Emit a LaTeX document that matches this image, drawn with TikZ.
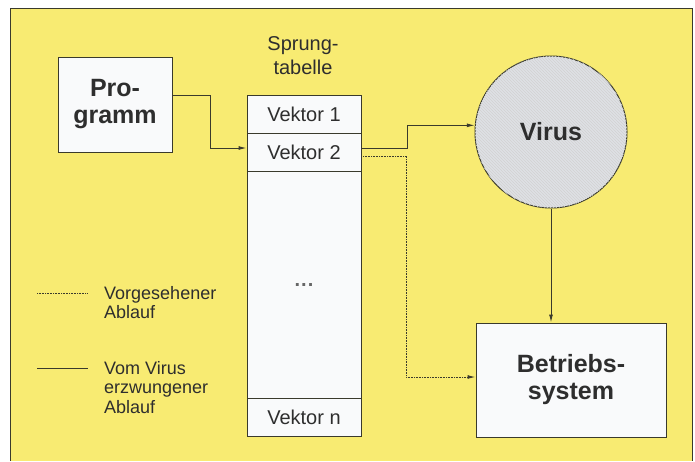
\documentclass[tikz,border=0pt]{standalone}
\usepackage{fontspec}
\setmainfont{Liberation Sans}
\usepackage{xcolor}
\usetikzlibrary{arrows.meta, positioning, calc, patterns}
\definecolor{bgyellow}{HTML}{F8EB72}
\definecolor{inkdark}{HTML}{3A3A2C}
\definecolor{textdark}{HTML}{2E2E2E}
\definecolor{boxwhite}{HTML}{F9FAFB}
\definecolor{virusgray}{HTML}{DEE1E5}

\begin{document}
\begin{tikzpicture}[x=1pt, y=-1pt,
    every node/.style={text=textdark},
    box/.style={
        rectangle, draw=inkdark, line width=1pt,
        fill=boxwhite, inner sep=0pt,
        font=\fontsize{25}{27}\selectfont\bfseries, align=center,
    },
    slot/.style={
        rectangle, draw=inkdark, line width=0.9pt,
        fill=boxwhite, inner sep=0pt,
        minimum width=114pt, minimum height=38pt,
        font=\fontsize{20}{22}\selectfont,
    },
    legendtext/.style={
        anchor=north west, inner sep=0pt, align=left,
        font=\fontsize{18}{19.5}\selectfont,
    },
    forced/.style={
        draw=inkdark, line width=1pt, -{Latex[length=8pt, width=4pt]},
    },
    planned/.style={
        draw=inkdark, line width=1pt, dash pattern=on 0.7pt off 0.9pt,
        -{Latex[length=8pt, width=4pt]},
    },
]

\useasboundingbox (0,0) rectangle (695,461);

% ── Background frame ──────────────────────────────────────────────────
\fill[bgyellow] (10,8) rectangle (692,461);
\draw[inkdark, line width=1pt] (10,461) -- (10,8) -- (692,8) -- (692,461);

% ── Program ───────────────────────────────────────────────────────────
\node[box, minimum width=114pt, minimum height=95pt] (prog) at (115,104.5) {Pro-\\gramm};

% ── Jump table ────────────────────────────────────────────────────────
\node[font=\fontsize{20}{24}\selectfont, align=center] (jtlabel) at (303,56) {Sprung-\\tabelle};
\node[slot] (v1) at (304,114) {Vektor 1};
\node[slot] (v2) at (304,152) {Vektor 2};
\node[slot, minimum height=227pt, text=gray!80!black] (vmid) at (304,284.5) {\raisebox{-4pt}{\textbf{.\kern1pt.\kern1pt.}}};
\node[slot] (vn) at (304,417) {Vektor n};

% ── Virus and operating system ────────────────────────────────────────
\node[circle, draw=inkdark, line width=1pt, fill=virusgray,
      postaction={pattern=north west lines, pattern color=gray!35},
      minimum size=152pt, inner sep=0pt,
      font=\fontsize{25}{27}\selectfont\bfseries] (virus) at (551,132) {Virus};
\node[box, minimum width=190pt, minimum height=114pt] (bs) at (571,380) {Betriebs-\\system};

% ── Connectors ────────────────────────────────────────────────────────
\draw[forced] ([yshift=9.5pt]prog.east) -- ++(38,0) |- ([yshift=4pt]v2.west);
\draw[forced] ([yshift=4pt]v2.east) -- ++(46,0) |- (virus.175);
\draw[planned] ([yshift=-4pt]v2.east) -- ++(45,0) |- ([yshift=3pt]bs.west);
\draw[forced] (virus.south) -- (virus.south |- bs.north);

% ── Legend ────────────────────────────────────────────────────────────
\coordinate (lgA1) at (37,293);
\coordinate (lgA2) at (88,293);
\coordinate (lgB1) at (37,368);
\coordinate (lgB2) at (88,368);
\draw[inkdark, line width=1pt, dash pattern=on 0.7pt off 0.9pt] (lgA1) -- (lgA2);
\draw[inkdark, line width=1pt] (lgB1) -- (lgB2);
\node[legendtext] (lgAtext) at (104,286) {Vorgesehener\\Ablauf};
\node[legendtext] (lgBtext) at (104,361) {Vom Virus\\erzwungener\\Ablauf};

\end{tikzpicture}
\end{document}
